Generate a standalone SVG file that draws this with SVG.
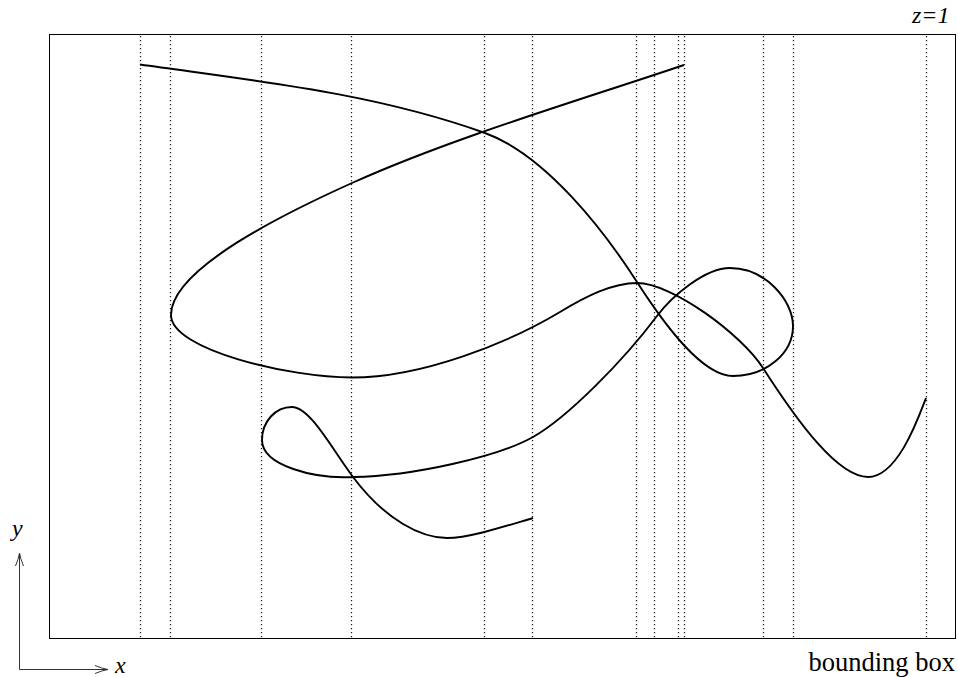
<svg xmlns="http://www.w3.org/2000/svg" width="958" height="677" viewBox="0 0 958 677">
<style>
.frame{fill:none;stroke:#000;stroke-width:1}
.guide{fill:none;stroke:#222;stroke-width:1.3;stroke-dasharray:1.2 2.8}
.curve{fill:none;stroke:#000;stroke-width:1.9;stroke-linecap:butt;stroke-linejoin:round}
.axis{fill:none;stroke:#333;stroke-width:1}
.lbl{font-family:"Liberation Serif","DejaVu Serif",serif;font-size:24px;fill:#000}
.it{font-style:italic}
</style>
<defs>
<marker id="arr" markerUnits="userSpaceOnUse" markerWidth="20" markerHeight="12" refX="0" refY="0" viewBox="-14 -6 16 12" orient="auto">
<path d="M-13,-4 Q-6,-1 0,0 Q-6,1 -13,4" fill="none" stroke="#333" stroke-width="1"/>
</marker>
</defs>
<rect id="bbox" class="frame" x="49.5" y="34.5" width="906" height="604"/>
<g id="guides">
<line class="guide" x1="140.5" y1="36" x2="140.5" y2="638"/>
<line class="guide" x1="170.5" y1="36" x2="170.5" y2="638"/>
<line class="guide" x1="261.5" y1="36" x2="261.5" y2="638"/>
<line class="guide" x1="351.5" y1="36" x2="351.5" y2="638"/>
<line class="guide" x1="484.5" y1="36" x2="484.5" y2="638"/>
<line class="guide" x1="532.5" y1="36" x2="532.5" y2="638"/>
<line class="guide" x1="636.5" y1="36" x2="636.5" y2="638"/>
<line class="guide" x1="654.5" y1="36" x2="654.5" y2="638"/>
<line class="guide" x1="678.5" y1="36" x2="678.5" y2="638"/>
<line class="guide" x1="684.5" y1="36" x2="684.5" y2="638"/>
<line class="guide" x1="763.5" y1="36" x2="763.5" y2="638"/>
<line class="guide" x1="793.5" y1="36" x2="793.5" y2="638"/>
<line class="guide" x1="926.5" y1="36" x2="926.5" y2="638"/>
</g>
<g id="curves">
<path id="curve1" class="curve" d="M140,64.5 C255,80.9 373,92.7 485,133 C546.1,155.1 604.6,231.6 637,282 C666.7,328.2 703,376 733,376 C766.1,376 793,353.6 793,326 C793,300 764.8,268 730,268 C705,268 672,296 657,316 C624,360 567.8,417.4 533,437 C498.2,456.6 413,476 353,477 C315,479 262,466 262,440 C262,422 275,407 292,407 C310,407 332,449 353,477 C386,521 422,538 447,538 C470,538 509,525 533,518"/>
<path id="curve2" class="curve" d="M684,65 C579.8,100.2 452.1,137.9 352,183 C288.3,211.7 171,268 171,315 C171,350 290,377.5 352,377.5 C422,377.5 508.6,342.8 560,312 C585.7,296.6 612,283 637,283 C672,283 741.4,334.4 763,368 C798.1,422.6 838,477 868,477 C898,477 918.8,416.6 926,398"/>
</g>
<g id="axes">
<line class="axis" x1="19.5" y1="669.5" x2="19.5" y2="553" marker-end="url(#arr)"/>
<line class="axis" x1="19.5" y1="669.5" x2="108" y2="669.5" marker-end="url(#arr)"/>
</g>
<g id="labels">
<text class="lbl it" x="12" y="536">y</text>
<text class="lbl it" x="115" y="673">x</text>
<text class="lbl it" x="912" y="23">z=1</text>
<text class="lbl" x="955" y="671" text-anchor="end" style="font-size:26.5px">bounding box</text>
</g>
</svg>
